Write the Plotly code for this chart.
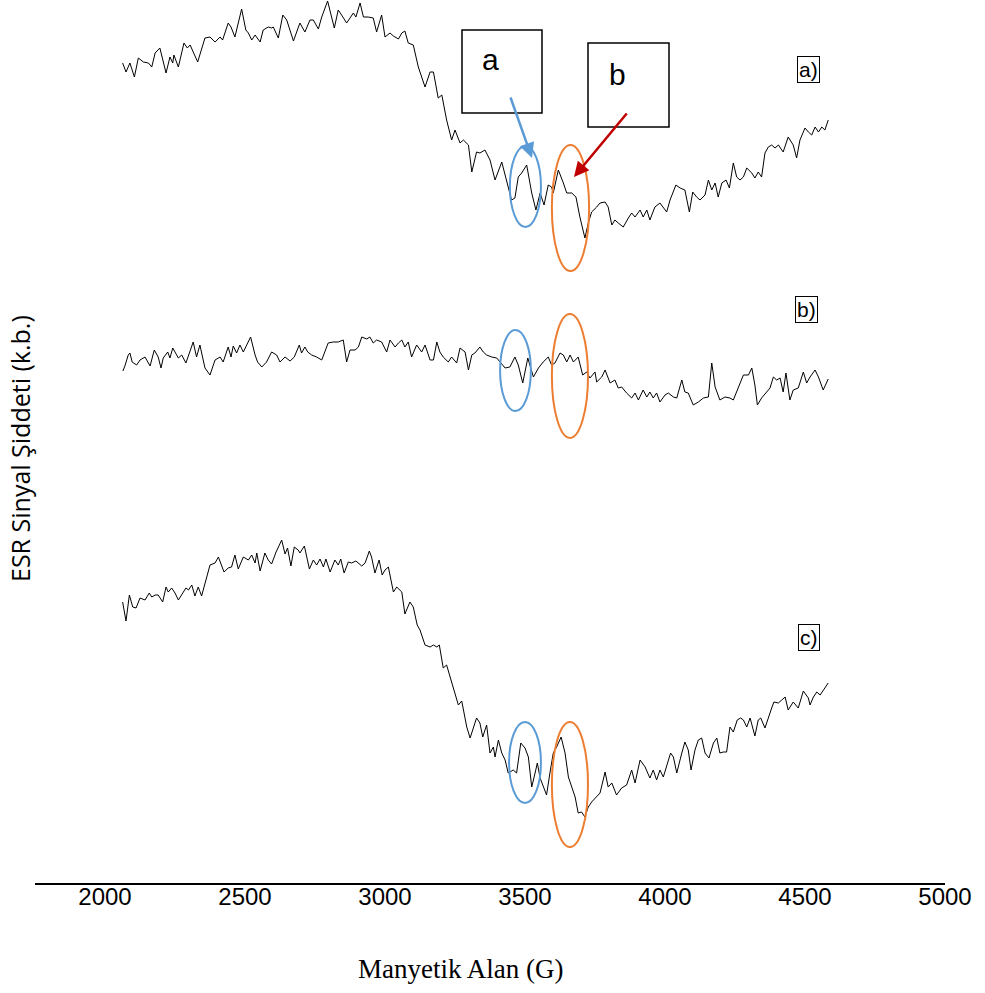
import plotly.graph_objects as go

# ---- data (field in G, intensity in arbitrary units) ----
field_a = [2063,2075,2089,2105,2119,2137,2155,2167,2179,2196,2218,2232,2242,2246,2262,2282,2294,2304,2331,2345,
           2357,2375,2393,2411,2420,2440,2450,2464,2488,2503,2512,2524,2536,2554,2565,2583,2595,2601,2619,2635,
           2649,2673,2696,2714,2732,2744,2762,2774,2795,2819,2833,2845,2863,2887,2896,2911,2923,2940,2958,2970,
           2988,3000,3018,3030,3048,3060,3071,3083,3101,3119,3143,3161,3173,3190,3203,3220,3238,3250,3268,3280,
           3298,3310,3327,3339,3357,3375,3393,3417,3435,3452,3464,3476,3488,3506,3524,3539,3554,3568,3583,3595,
           3601,3619,3637,3649,3667,3682,3696,3714,3726,3738,3756,3768,3786,3797,3810,3821,3833,3851,3869,3881,
           3893,3911,3922,3935,3946,3964,3982,3994,4006,4018,4039,4054,4071,4087,4099,4113,4125,4143,4155,4167,
           4179,4190,4203,4218,4230,4244,4256,4268,4280,4292,4310,4321,4333,4345,4357,4369,4381,4393,4405,4422,
           4440,4458,4470,4482,4500,4512,4524,4536,4548,4560,4571,4583]
signal_a = [820,811,820,806,825,821,820,816,830,835,810,826,820,828,816,840,835,838,821,835,
            845,846,841,846,843,860,856,846,874,853,850,843,848,841,853,856,855,856,845,868,
            863,842,860,851,863,863,854,866,882,855,873,868,860,870,866,880,866,866,865,851,
            868,846,850,847,844,850,852,840,838,816,796,811,811,785,788,763,743,753,740,743,
            738,711,731,730,733,723,703,721,700,683,685,706,710,718,690,673,690,678,698,696,
            690,713,700,690,690,686,666,645,660,671,676,680,681,676,658,663,660,656,665,670,
            666,673,666,673,663,676,680,676,671,683,698,695,693,671,691,686,683,688,703,693,
            700,686,700,703,695,720,706,703,706,715,710,705,711,706,730,736,738,735,738,731,
            746,738,725,743,755,751,748,756,751,756,753,763]

field_b = [2064,2071,2083,2089,2097,2113,2125,2143,2161,2176,2190,2200,2208,2224,2232,2242,2262,2274,2289,2315,
           2327,2339,2357,2375,2393,2411,2422,2440,2450,2458,2470,2482,2494,2520,2536,2545,2560,2577,2595,2613,
           2625,2643,2661,2676,2694,2702,2714,2724,2738,2756,2774,2797,2815,2833,2851,2863,2875,2893,2905,2917,
           2935,2946,2958,2970,2988,3006,3018,3036,3048,3060,3071,3083,3095,3113,3131,3143,3161,3173,3185,3196,
           3208,3226,3238,3256,3268,3286,3298,3310,3321,3339,3351,3363,3381,3399,3411,3429,3446,3464,3476,3492,
           3510,3530,3548,3565,3583,3595,3607,3625,3637,3649,3661,3673,3690,3706,3720,3732,3750,3756,3774,3786,
           3804,3821,3833,3845,3863,3881,3893,3905,3922,3935,3946,3958,3970,3982,4000,4012,4030,4042,4060,4071,
           4083,4101,4119,4137,4155,4167,4179,4196,4214,4232,4244,4265,4280,4298,4310,4321,4330,4345,4363,4375,
           4387,4399,4411,4422,4432,4446,4458,4476,4494,4506,4518,4536,4548,4565,4583]
signal_b = [512,517,528,530,521,518,523,526,517,533,526,515,525,531,525,535,525,528,520,541,
            526,538,515,508,523,526,521,536,526,537,530,538,531,546,528,521,516,521,531,528,
            521,526,522,526,538,530,536,531,528,526,523,540,541,541,543,521,533,533,536,546,
            544,546,540,543,541,531,543,536,540,543,536,541,526,538,531,538,523,523,541,531,
            526,521,526,520,535,531,513,528,530,536,531,528,526,525,521,515,516,526,518,500,
            525,506,515,521,526,518,520,530,528,521,528,521,526,508,511,505,511,501,506,513,
            500,503,495,496,490,485,490,483,493,486,491,485,490,481,488,490,486,485,503,491,
            490,478,481,485,486,520,496,483,486,485,483,498,508,508,515,498,478,485,491,495,
            506,503,505,491,510,483,493,495,511,500,506,513,506,493,504]

field_c = [2063,2075,2087,2099,2111,2125,2143,2158,2167,2179,2190,2206,2218,2226,2238,2250,2262,2278,2289,2298,
           2310,2321,2333,2345,2361,2375,2393,2405,2425,2440,2452,2464,2476,2494,2512,2524,2536,2542,2554,2571,
           2583,2595,2611,2631,2643,2652,2664,2676,2690,2696,2712,2730,2744,2756,2768,2780,2789,2804,2821,2833,
           2842,2854,2869,2881,2896,2917,2929,2944,2952,2964,2979,2990,3000,3012,3030,3042,3060,3071,3089,3101,
           3115,3125,3143,3161,3173,3185,3194,3208,3220,3238,3250,3262,3274,3292,3304,3327,3339,3349,3363,3375,
           3387,3393,3405,3417,3429,3440,3458,3470,3485,3500,3512,3524,3536,3544,3554,3565,3577,3589,3601,3613,
           3629,3643,3655,3667,3679,3690,3702,3714,3726,3738,3756,3768,3786,3797,3810,3827,3845,3863,3881,3893,
           3911,3929,3946,3958,3970,3982,3994,4006,4020,4030,4042,4060,4071,4083,4093,4107,4119,4131,4143,4157,
           4173,4185,4196,4208,4220,4232,4244,4258,4270,4280,4292,4304,4321,4333,4342,4357,4369,4381,4389,4405,
           4417,4429,4440,4458,4476,4494,4512,4518,4530,4542,4554,4565,4583]
signal_c = [281,262,288,276,275,285,283,290,286,288,288,281,296,291,295,290,283,290,295,293,
            298,287,296,287,303,318,320,326,311,315,316,328,314,326,323,328,320,330,312,330,
            323,319,331,343,329,335,317,336,333,330,337,314,323,318,324,316,324,311,323,318,
            324,310,321,320,322,317,320,332,326,310,323,308,313,316,291,296,291,269,281,276,
            258,253,238,236,238,236,238,215,218,201,190,178,182,156,145,165,160,146,158,130,
            136,126,143,130,123,110,113,110,140,135,126,96,110,120,105,96,88,110,130,136,
            146,130,106,96,86,70,71,66,76,81,86,90,111,96,100,88,95,98,113,100,
            123,116,105,113,103,113,106,118,130,126,110,130,141,133,113,133,143,145,130,125,
            140,145,130,131,131,156,151,163,165,163,156,165,147,163,165,155,166,175,181,180,
            183,186,173,181,175,192,185,178,186,191,188,193,200]

x_ticks = [2000, 2500, 3000, 3500, 4000, 4500, 5000]
spectrum_labels = ["a)", "b)", "c)"]

# ---- layout helpers (pixel -> paper) ----
W, H = 985, 993
ML, MR, MT, MB = 35, 40, 0, 110
PW, PH = W - ML - MR, H - MT - MB


def px(x):
    return (x - ML) / PW


def py(y):
    return (H - MB - y) / PH


fig = go.Figure()
for fx, sy in [(field_a, signal_a), (field_b, signal_b), (field_c, signal_c)]:
    fig.add_trace(go.Scatter(x=fx, y=sy, mode="lines",
                             line=dict(color="black", width=1), showlegend=False,
                             hoverinfo="skip"))

BLUE = "#5B9BD5"
ORANGE = "#ED7D31"
shapes = []
# ellipses (data coordinates)
ell = [
    (3446, 3557, 656, 737, BLUE), (3596, 3729, 612, 738, ORANGE),
    (3411, 3521, 472, 553, BLUE), (3596, 3725, 445, 569, ORANGE),
    (3443, 3557, 80, 161, BLUE), (3596, 3725, 36, 161, ORANGE),
]
for x0, x1, y0, y1, c in ell:
    shapes.append(dict(type="circle", xref="x", yref="y", x0=x0, x1=x1, y0=y0, y1=y1,
                       line=dict(color=c, width=2)))
# label boxes
for (x0, y0, x1, y1) in [(462, 30, 542, 113), (588, 43, 669, 127)]:
    shapes.append(dict(type="rect", xref="paper", yref="paper",
                       x0=px(x0), x1=px(x1), y0=py(y1), y1=py(y0),
                       line=dict(color="black", width=1.5)))

SANS = "Liberation Sans, Arial"
annotations = []


def note(text, x, y, **kw):
    d = dict(text=text, x=px(x), y=py(y), xref="paper", yref="paper",
             xanchor="center", yanchor="middle", showarrow=False)
    d.update(kw)
    annotations.append(d)


note("a", 490, 60, font=dict(family=SANS, size=30, color="black"))
note("b", 617, 74, font=dict(family=SANS, size=30, color="black"))
# arrows
note("", 532, 158, ax=-22, ay=-62, showarrow=True, arrowhead=2, arrowsize=1.2,
     arrowwidth=2.5, arrowcolor=BLUE)
note("", 574, 177, ax=54, ay=-65, showarrow=True, arrowhead=2, arrowsize=1.2,
     arrowwidth=2.5, arrowcolor="#C00000")
# spectrum labels
for lab, (lx, ly) in zip(spectrum_labels, [(808, 70), (806, 309), (809, 637)]):
    note(lab, lx, ly, bordercolor="black", borderwidth=1, borderpad=1,
         font=dict(family=SANS, size=21, color="black"))
# axis titles
note("Manyetik Alan (G)", 460, 969,
     font=dict(family="Liberation Serif, Times New Roman", size=27, color="black"))
note("ESR Sinyal Şiddeti (k.b.)", 20, 449, textangle=-90,
     font=dict(family="Open Sans, Noto Sans", size=25, color="black"))

fig.update_layout(
    width=W, height=H,
    margin=dict(l=ML, r=MR, t=MT, b=MB),
    paper_bgcolor="white", plot_bgcolor="white",
    shapes=shapes, annotations=annotations,
    xaxis=dict(range=[1750, 5000], tickvals=x_ticks, ticktext=[str(t) for t in x_ticks],
               showgrid=False, zeroline=False, showline=True, linecolor="black", linewidth=2,
               ticks="", ticklabelstandoff=-9,
               tickfont=dict(family=SANS, size=24, color="black")),
    yaxis=dict(range=[0, 883], visible=False, showgrid=False, zeroline=False),
)

fig.write_html("out.html")
